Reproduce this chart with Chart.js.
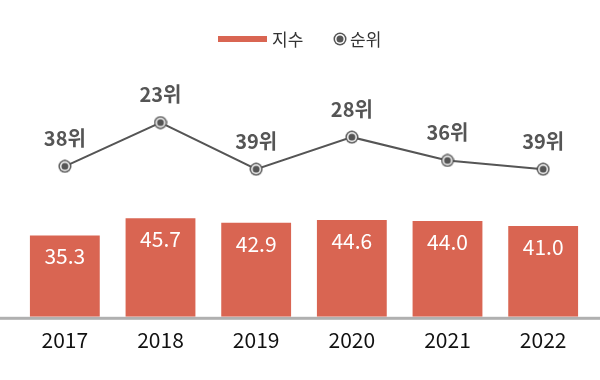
<!DOCTYPE html>
<html><head><meta charset="utf-8">
<script src="https://cdn.jsdelivr.net/npm/chart.js@4"></script>
<style>
html,body{margin:0;padding:0;background:#fff;}
#wrap{position:relative;width:600px;height:380px;}
#legend{position:absolute;left:0;top:27px;width:600px;height:24px;font-family:"Noto Sans CJK KR","Noto Sans",sans-serif;font-size:17px;color:#333;}
.li{position:absolute;top:0;height:24px;line-height:24px;}
</style></head>
<body>
<div id="wrap">
<canvas id="c" width="600" height="380"></canvas>
<div id="legend">
  <div class="li" style="left:218px;top:9px;width:49px;height:6px;background:#D96552;"></div>
  <div class="li" style="left:272px;">지수</div>
  <canvas class="li" id="lm" width="14" height="14" style="left:333px;top:5px;width:14px;height:14px;"></canvas>
  <div class="li" style="left:350px;">순위</div>
</div>
</div>
<script>
const years = ['2017','2018','2019','2020','2021','2022'];
const indexValues = [35.3, 45.7, 42.9, 44.6, 44.0, 41.0];
const rankValues = [38, 23, 39, 28, 36, 39];
const rankSuffix = '위';
const seriesNames = ['지수', '순위'];

const BAR = '#D96552', LINE = '#555555';
const FONT = '"Noto Sans CJK KR","Noto Sans",sans-serif';

function makeMarker(cv){
  const c = cv.getContext('2d');
  c.beginPath(); c.arc(7,7,6.5,0,Math.PI*2); c.fillStyle=LINE; c.fill();
  c.beginPath(); c.arc(7,7,5,0,Math.PI*2); c.fillStyle='#fff'; c.fill();
  c.beginPath(); c.arc(7,7,3.5,0,Math.PI*2); c.fillStyle=LINE; c.fill();
  return cv;
}
const marker = document.createElement('canvas'); marker.width=14; marker.height=14;
makeMarker(marker);
makeMarker(document.getElementById('lm'));

const labelPlugin = {
  id:'labels',
  beforeDatasetsDraw(chart){
    const ctx = chart.ctx, a = chart.chartArea;
    ctx.save();
    ctx.fillStyle = '#b0b0b0';
    ctx.fillRect(0, a.bottom, chart.width, 3);
    ctx.restore();
  },
  afterDatasetsDraw(chart){
    const ctx = chart.ctx;
    ctx.save();
    ctx.textAlign = 'center'; ctx.textBaseline = 'middle';
    const bm = chart.getDatasetMeta(0);
    ctx.fillStyle = '#fff'; ctx.font = '21px ' + FONT;
    bm.data.forEach((el,i)=>{ ctx.fillText(indexValues[i].toFixed(1), el.x, el.y + 21); });
    const lm = chart.getDatasetMeta(1);
    ctx.fillStyle = '#555'; ctx.font = 'bold 20px ' + FONT;
    lm.data.forEach((el,i)=>{ ctx.fillText(rankValues[i] + rankSuffix, el.x, el.y - 28); });
    ctx.restore();
  }
};

new Chart(document.getElementById('c'), {
  data:{
    labels: years,
    datasets:[
      {type:'bar', label:seriesNames[0], data:indexValues, backgroundColor:BAR, yAxisID:'y', base:-14,
       barPercentage:0.73, categoryPercentage:1, order:2},
      {type:'line', label:seriesNames[1], data:rankValues, yAxisID:'y2', borderColor:LINE, borderWidth:2,
       pointStyle:marker, pointRadius:7, tension:0, order:1}
    ]
  },
  options:{
    responsive:false, animation:false,
    layout:{padding:{left:17,right:7,top:60,bottom:24}},
    plugins:{legend:{display:false}, tooltip:{enabled:false}},
    scales:{
      x:{grid:{display:false}, border:{display:false},
         ticks:{color:'#111', font:{family:FONT, size:21}, padding:3}},
      y:{display:false, min:-14, max:141.5},
      y2:{display:false, reverse:true, min:1.54, max:89.6}
    }
  },
  plugins:[labelPlugin]
});
</script>
</body></html>
